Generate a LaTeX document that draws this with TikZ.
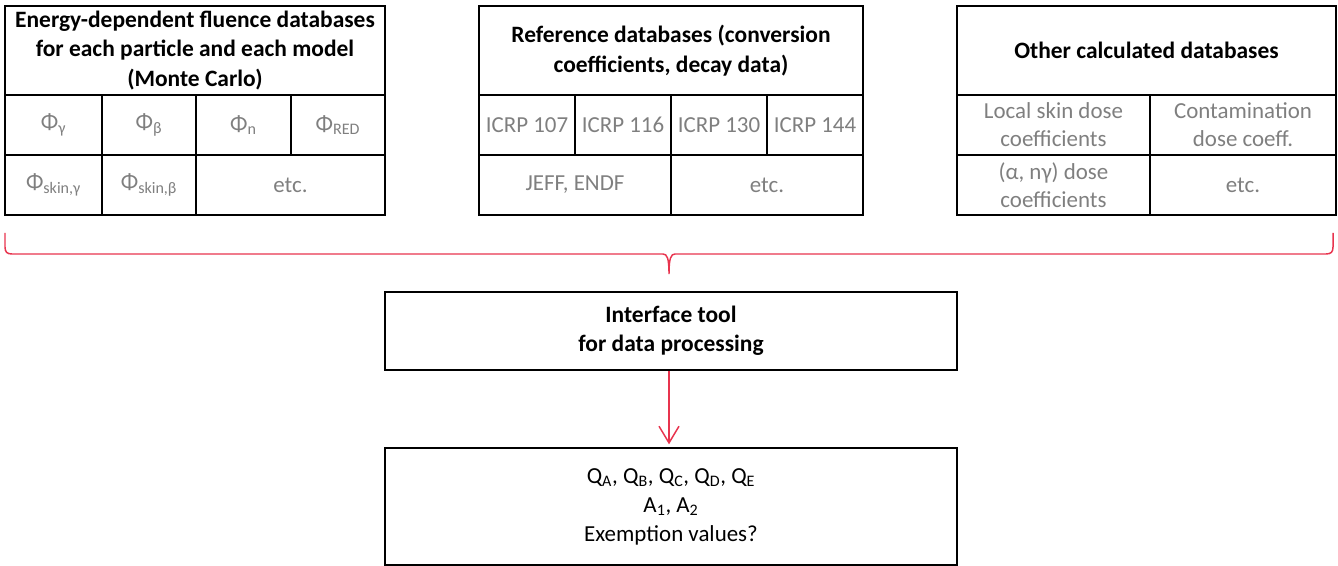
\documentclass[tikz,border=0pt]{standalone}
\usepackage{fontspec}
\setmainfont{Carlito}
\usetikzlibrary{arrows.meta}

\definecolor{celltext}{RGB}{127,127,127}
\definecolor{linkred}{RGB}{232,52,78}

% cell: name, x1, y1, x2, y2, style, text  (coordinates in pixels)
\newcommand{\cellnode}[7]{%
  \node[#6, minimum width={(#4-#2)*0.75pt}, minimum height={(#5-#3)*0.75pt}]
    (#1) at ({(#2+#4)/2},{(#3+#5)/2}) {#7};}

\begin{document}
\begin{tikzpicture}[x=0.75pt, y=-0.75pt,
  frame/.style={draw=black, line width=1.5pt, inner sep=0pt, align=center},
  header/.style={frame, font=\fontsize{17.6}{22}\selectfont\bfseries},
  entry/.style={frame, text=celltext, font=\fontsize{17.2}{21}\selectfont},
  plain/.style={frame, text=black, font=\fontsize{17.2}{21.8}\selectfont},
  link/.style={draw=linkred, line width=1.1pt}]

\useasboundingbox (0,0) rectangle (1338,566);

% --- fluence databases ---
\cellnode{fhead}{5}{6}{385}{95}{header}{Energy-dependent fluence databases\\for each particle and each model\\(Monte Carlo)}
\cellnode{fg}{5}{95}{102}{155}{entry}{Φ\textsubscript{γ}}
\cellnode{fb}{102}{95}{196}{155}{entry}{Φ\textsubscript{β}}
\cellnode{fn}{196}{95}{291}{155}{entry}{Φ\textsubscript{n}}
\cellnode{fr}{291}{95}{385}{155}{entry}{Φ\textsubscript{RED}}
\cellnode{fsg}{5}{155}{102}{215}{entry}{Φ\textsubscript{skin,γ}}
\cellnode{fsb}{102}{155}{196}{215}{entry}{Φ\textsubscript{skin,β}}
\cellnode{fetc}{196}{155}{385}{215}{entry}{etc.}

% --- reference databases ---
\cellnode{rhead}{479}{6}{863}{95}{header}{Reference databases (conversion\\coefficients, decay data)}
\cellnode{r107}{479}{95}{575}{155}{entry}{ICRP 107}
\cellnode{r116}{575}{95}{671}{155}{entry}{ICRP 116}
\cellnode{r130}{671}{95}{767}{155}{entry}{ICRP 130}
\cellnode{r144}{767}{95}{863}{155}{entry}{ICRP 144}
\cellnode{rjeff}{479}{155}{671}{215}{entry}{JEFF, ENDF}
\cellnode{retc}{671}{155}{863}{215}{entry}{etc.}

% --- other calculated databases ---
\cellnode{ohead}{957}{6}{1336}{95}{header}{Other calculated databases}
\cellnode{oskin}{957}{95}{1150}{155}{entry}{Local skin dose\\coefficients}
\cellnode{ocont}{1150}{95}{1336}{155}{entry}{Contamination\\dose coeff.}
\cellnode{oan}{957}{155}{1150}{215}{entry}{(α, nγ) dose\\coefficients}
\cellnode{oetc}{1150}{155}{1336}{215}{entry}{etc.}

% --- processing and results ---
\cellnode{tool}{385}{292}{957}{370}{header}{Interface tool\\for data processing}
\cellnode{result}{385}{448}{957}{565}{plain}{Q\textsubscript{A}, Q\textsubscript{B}, Q\textsubscript{C}, Q\textsubscript{D}, Q\textsubscript{E}\\A\textsubscript{1}, A\textsubscript{2}\\Exemption values?}

% brace gathering the three databases
\coordinate (bl) at (5,233);
\coordinate (br) at (1333,233);
\coordinate (btip) at (669,274);
\draw[link] (bl) -- (5,247) .. controls (5,252) and (7,254) .. (12,254)
  -- (663,254) .. controls (667,254) and (669,258) .. (btip)
  .. controls (669,258) and (671,254) .. (675,254)
  -- (1326,254) .. controls (1331,254) and (1333,252) .. (1333,247) -- (br);

% tool to results
\draw[link, -{Straight Barb[length=12.5pt, width=15pt, line width=1.1pt]}]
  (tool.south -| btip) -- ([yshift=2pt]result.north -| btip);
\end{tikzpicture}
\end{document}
